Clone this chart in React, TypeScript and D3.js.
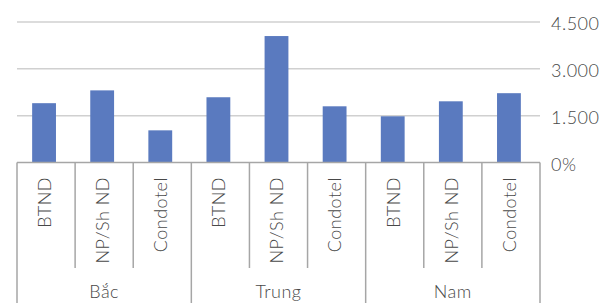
import React from "react";
import * as d3 from "d3";

const groups = ["Bắc", "Trung", "Nam"];
const types = ["BTND", "NP/Sh ND", "Condotel"];
const values = [
  [1900, 2310, 1030],
  [2090, 4050, 1800],
  [1480, 1960, 2220],
];
const yTicks = [0, 1500, 3000, 4500];
const yTickLabels = ["0%", "1.500", "3.000", "4.500"];

const W = 601;
const H = 303;
const left = 17;
const right = 540;
const axisY = 162.5;
const topY = 22;
const barShift = -2;

export default function App() {
  const cats = groups.flatMap((g, gi) => types.map((t, ti) => ({ key: `${gi}-${ti}`, g, t, v: values[gi][ti] })));
  const x = d3.scaleBand<string>().domain(cats.map((c) => c.key)).range([left, right]).paddingInner(0.59).paddingOuter(0.295);
  const step = (right - left) / cats.length;
  const y = d3.scaleLinear().domain([0, 4500]).range([axisY, topY]);
  const font = "Lato, 'Noto Sans', sans-serif";
  const textColor = "#484848";
  const axisColor = "#a6a6a6";
  const ls = 0.5;
  return (
    <svg width={W} height={H} style={{ position: "absolute", left: 0, top: 0 }}>
      {yTicks.filter((t) => t > 0).map((t) => (
        <line key={t} x1={left} x2={right} y1={y(t)} y2={y(t)} stroke="#d0d0d0" strokeWidth={1.5} />
      ))}
      {cats.map((c) => (
        <rect key={c.key} x={(x(c.key) as number) + barShift} width={x.bandwidth()} y={y(c.v)} height={axisY - y(c.v)} fill="#5a7abf" />
      ))}
      <line x1={left} x2={right} y1={axisY} y2={axisY} stroke={axisColor} strokeWidth={1.5} />
      {d3.range(cats.length + 1).map((i) => {
        const xx = left + i * step;
        const isGroup = i % 3 === 0;
        return <line key={i} x1={xx} x2={xx} y1={axisY} y2={isGroup ? H + 2 : 268} stroke={axisColor} strokeWidth={1.5} />;
      })}
      {cats.map((c) => {
        const cx = (x(c.key) as number) + x.bandwidth() / 2;
        return (
          <text key={c.key} transform={`translate(${cx},177) rotate(-90)`} textAnchor="end" dy="0.27em" fontFamily={font} fontWeight={300} letterSpacing={ls} fontSize={18} fill={textColor}>
            {c.t}
          </text>
        );
      })}
      {groups.map((g, gi) => (
        <text key={g} x={left + (gi * 3 + 1.5) * step} y={298} textAnchor="middle" fontFamily={font} fontWeight={300} letterSpacing={ls} fontSize={18} fill={textColor}>
          {g}
        </text>
      ))}
      {yTicks.map((t, i) => (
        <text key={t} x={551} y={y(t) + 2} dy="0.35em" fontFamily={font} fontWeight={300} letterSpacing={ls} fontSize={18} fill={textColor}>
          {yTickLabels[i]}
        </text>
      ))}
    </svg>
  );
}
